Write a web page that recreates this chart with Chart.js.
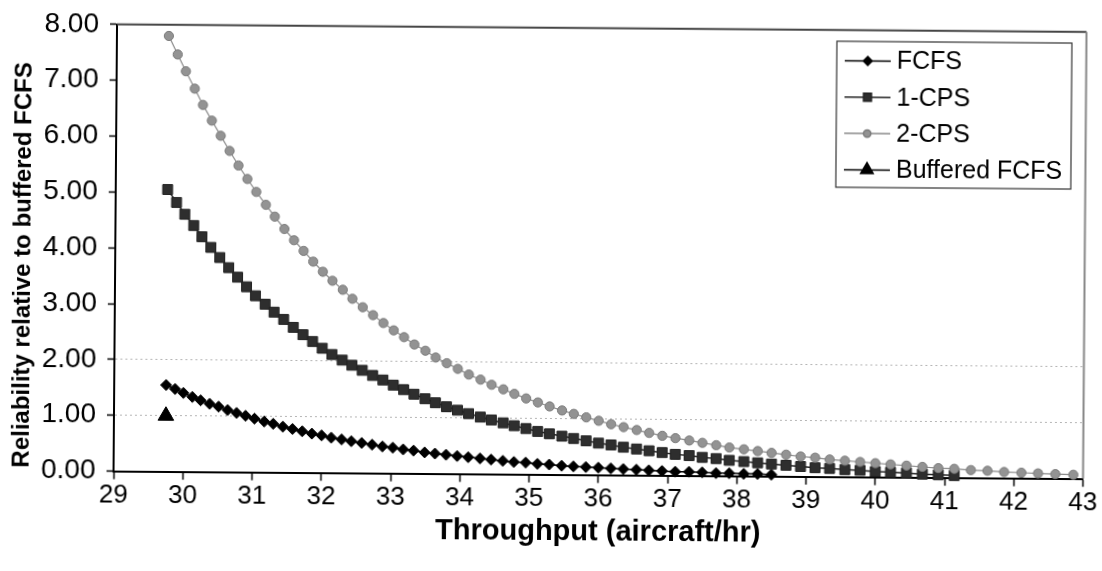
<!DOCTYPE html>
<html>
<head>
<meta charset="utf-8">
<script src="https://cdn.jsdelivr.net/npm/chart.js@4.4.1/dist/chart.umd.min.js"></script>
<style>
  html, body { margin: 0; padding: 0; background: #fff; }
  #wrap { width: 1102px; height: 571px; overflow: hidden; background: #fff; }
  /* the scanned figure is tilted a little clockwise */
  #chart { transform: rotate(0.45deg); transform-origin: 50% 50%; }
</style>
</head>
<body>
<div id="wrap"><canvas id="chart" width="1102" height="571"></canvas></div>
<script>
// throughput values (aircraft/hr) shared by all series
const throughput = [
  29.75, 29.88, 30.00, 30.13, 30.25, 30.38, 30.51, 30.64, 30.77, 30.90,
  31.03, 31.17, 31.30, 31.44, 31.58, 31.72, 31.86, 32.00, 32.14, 32.29,
  32.43, 32.58, 32.73, 32.88, 33.03, 33.18, 33.33, 33.49, 33.64, 33.80,
  33.96, 34.12, 34.29, 34.45, 34.62, 34.78, 34.95, 35.12, 35.29, 35.47,
  35.64, 35.82, 36.00, 36.18, 36.36, 36.55, 36.73, 36.92, 37.11, 37.31,
  37.50, 37.70, 37.89, 38.10, 38.30, 38.50, 38.71, 38.92, 39.13, 39.34,
  39.56, 39.78, 40.00, 40.22, 40.45, 40.68, 40.91, 41.14, 41.38, 41.62,
  41.86, 42.11, 42.35, 42.60, 42.86
];

// reliability relative to buffered FCFS
const fcfs = [
  1.55, 1.48, 1.41, 1.34, 1.28, 1.22, 1.17, 1.11, 1.06, 1.01,
  0.96, 0.91, 0.87, 0.82, 0.78, 0.74, 0.70, 0.67, 0.63, 0.60,
  0.57, 0.54, 0.51, 0.48, 0.46, 0.43, 0.41, 0.38, 0.36, 0.34,
  0.32, 0.30, 0.28, 0.26, 0.24, 0.22, 0.21, 0.19, 0.18, 0.16,
  0.15, 0.14, 0.13, 0.12, 0.11, 0.10, 0.09, 0.08, 0.07, 0.07,
  0.06, 0.05, 0.05, 0.04, 0.04, 0.03
];

const cps1 = [
  5.05, 4.82, 4.61, 4.41, 4.21, 4.02, 3.84, 3.66, 3.49, 3.32,
  3.16, 3.01, 2.87, 2.74, 2.60, 2.47, 2.35, 2.23, 2.12, 2.02,
  1.93, 1.84, 1.75, 1.67, 1.58, 1.50, 1.42, 1.34, 1.27, 1.20,
  1.14, 1.08, 1.02, 0.97, 0.92, 0.87, 0.82, 0.77, 0.73, 0.69,
  0.65, 0.61, 0.57, 0.54, 0.50, 0.47, 0.44, 0.41, 0.38, 0.36,
  0.33, 0.31, 0.28, 0.26, 0.24, 0.22, 0.20, 0.18, 0.16, 0.15,
  0.13, 0.12, 0.10, 0.09, 0.08, 0.06, 0.05, 0.04
];

const cps2 = [
  7.80, 7.47, 7.17, 6.86, 6.57, 6.29, 6.02, 5.75, 5.49, 5.25,
  5.02, 4.79, 4.58, 4.36, 4.16, 3.97, 3.78, 3.60, 3.44, 3.28,
  3.12, 2.97, 2.83, 2.69, 2.56, 2.44, 2.31, 2.20, 2.08, 1.98,
  1.88, 1.78, 1.69, 1.60, 1.52, 1.44, 1.36, 1.29, 1.22, 1.15,
  1.09, 1.03, 0.97, 0.91, 0.86, 0.81, 0.76, 0.71, 0.67, 0.63,
  0.59, 0.55, 0.51, 0.48, 0.45, 0.42, 0.39, 0.36, 0.34, 0.31,
  0.29, 0.27, 0.25, 0.23, 0.21, 0.19, 0.17, 0.16, 0.14, 0.13,
  0.11, 0.10, 0.09, 0.08, 0.07
];

const bufferedX = [29.75];
const bufferedY = [1.00];

const seriesNames = ['FCFS', '1-CPS', '2-CPS', 'Buffered FCFS'];
const xTitle = 'Throughput (aircraft/hr)';
const yTitle = 'Reliability relative to buffered FCFS';

const FONT = "'Liberation Sans', Arial, Helvetica, sans-serif";

function toPoints(xs, ys) {
  return ys.map((v, i) => ({ x: xs[i], y: v }));
}

// frame of the plot area: dark top line and grey right line
const plotFrame = {
  id: 'plotFrame',
  afterDraw(chart) {
    const { ctx, chartArea: a } = chart;
    ctx.save();
    ctx.lineWidth = 2;
    ctx.strokeStyle = '#444';
    ctx.beginPath();
    ctx.moveTo(a.left, a.top);
    ctx.lineTo(a.right, a.top);
    ctx.stroke();
    ctx.strokeStyle = '#888';
    ctx.beginPath();
    ctx.moveTo(a.right, a.top);
    ctx.lineTo(a.right, a.bottom);
    ctx.stroke();
    ctx.restore();
  }
};

// y title, sits a bit lower than the centre of the axis in the original
const yTitlePlugin = {
  id: 'yTitlePlugin',
  afterDraw(chart) {
    const ctx = chart.ctx;
    ctx.save();
    ctx.translate(23, 269);
    ctx.rotate(-Math.PI / 2);
    ctx.font = 'bold 24px ' + FONT;
    ctx.fillStyle = '#000';
    ctx.textAlign = 'center';
    ctx.textBaseline = 'middle';
    ctx.fillText(yTitle, 0, 0);
    ctx.restore();
  }
};

// legend in a framed box inside the plot, line + marker per entry
const boxLegend = {
  id: 'boxLegend',
  afterDraw(chart) {
    const ctx = chart.ctx;
    const box = { x: 835, y: 39, w: 235, h: 146 };
    ctx.save();
    ctx.fillStyle = '#fff';
    ctx.fillRect(box.x, box.y, box.w, box.h);
    ctx.lineWidth = 1.2;
    ctx.strokeStyle = '#333';
    ctx.strokeRect(box.x, box.y, box.w, box.h);

    chart.data.datasets.forEach((ds, i) => {
      const y = box.y + 19.5 + i * 36.3;
      ctx.strokeStyle = ds.borderColor;
      ctx.lineWidth = 1.5;
      ctx.beginPath();
      ctx.moveTo(843, y);
      ctx.lineTo(889, y);
      ctx.stroke();

      ctx.fillStyle = ds.pointBackgroundColor;
      ctx.strokeStyle = ds.pointBorderColor;
      Chart.helpers.drawPoint(ctx, {
        pointStyle: ds.pointStyle,
        radius: ds.pointRadius * 0.8,
        rotation: 0,
        borderWidth: 1
      }, 866, y);

      ctx.fillStyle = '#000';
      ctx.font = '25px ' + FONT;
      ctx.textAlign = 'left';
      ctx.textBaseline = 'middle';
      ctx.fillText(ds.label, 895, y + 1);
    });
    ctx.restore();
  }
};

const canvas = document.getElementById('chart');

new Chart(canvas, {
  type: 'line',
  data: {
    datasets: [
      {
        label: seriesNames[0],
        data: toPoints(throughput, fcfs),
        borderColor: '#000',
        borderWidth: 1.5,
        pointStyle: 'rectRot',
        pointRadius: 5.5,
        pointBackgroundColor: '#000',
        pointBorderColor: '#000',
        order: 4
      },
      {
        label: seriesNames[1],
        data: toPoints(throughput, cps1),
        borderColor: '#222',
        borderWidth: 1.5,
        pointStyle: 'rect',
        pointRadius: 7,
        pointBackgroundColor: '#2e2e2e',
        pointBorderColor: '#222',
        order: 3
      },
      {
        label: seriesNames[2],
        data: toPoints(throughput, cps2),
        borderColor: '#8a8a8a',
        borderWidth: 1.2,
        pointStyle: 'circle',
        pointRadius: 4.6,
        pointBackgroundColor: '#939393',
        pointBorderColor: '#7a7a7a',
        order: 2
      },
      {
        label: seriesNames[3],
        data: toPoints(bufferedX, bufferedY),
        borderColor: '#000',
        borderWidth: 1.5,
        pointStyle: 'triangle',
        pointRadius: 9,
        pointBackgroundColor: '#000',
        pointBorderColor: '#000',
        order: 1
      }
    ]
  },
  options: {
    responsive: false,
    animation: false,
    devicePixelRatio: 1,
    datasets: { line: { clip: false, tension: 0, pointBorderWidth: 1 } },
    layout: { padding: { top: 24.3, right: 17.5, left: 0, bottom: 0 } },
    scales: {
      x: {
        type: 'linear',
        min: 29,
        max: 43,
        afterFit: (s) => { s.height = 96.4; },
        ticks: {
          stepSize: 1,
          padding: 1,
          color: '#000',
          font: { family: FONT, size: 26 }
        },
        grid: {
          drawOnChartArea: false,
          tickLength: 8,
          tickColor: '#000',
          tickWidth: 1.5
        },
        border: { color: '#000', width: 2 },
        title: {
          display: true,
          text: xTitle,
          color: '#000',
          font: { family: FONT, size: 29, weight: 'bold' },
          padding: { top: 0, bottom: 22 }
        }
      },
      y: {
        min: 0,
        max: 8,
        afterFit: (s) => { s.width = 115; },
        ticks: {
          stepSize: 1,
          padding: 11,
          color: '#000',
          font: { family: FONT, size: 28 },
          callback: (v) => v.toFixed(2)
        },
        grid: {
          // only the 1.00 and 2.00 dotted lines survive in the scan
          color: (c) => (c.tick && (c.tick.value === 1 || c.tick.value === 2)) ? '#b5b5b5' : 'rgba(0,0,0,0)',
          lineWidth: 1,
          tickLength: 7,
          tickColor: '#000',
          tickWidth: 1.5
        },
        border: { color: '#000', width: 2, dash: [2, 3] }
      }
    },
    plugins: {
      legend: { display: false },
      tooltip: { enabled: false }
    }
  },
  plugins: [plotFrame, yTitlePlugin, boxLegend]
});
</script>
</body>
</html>
